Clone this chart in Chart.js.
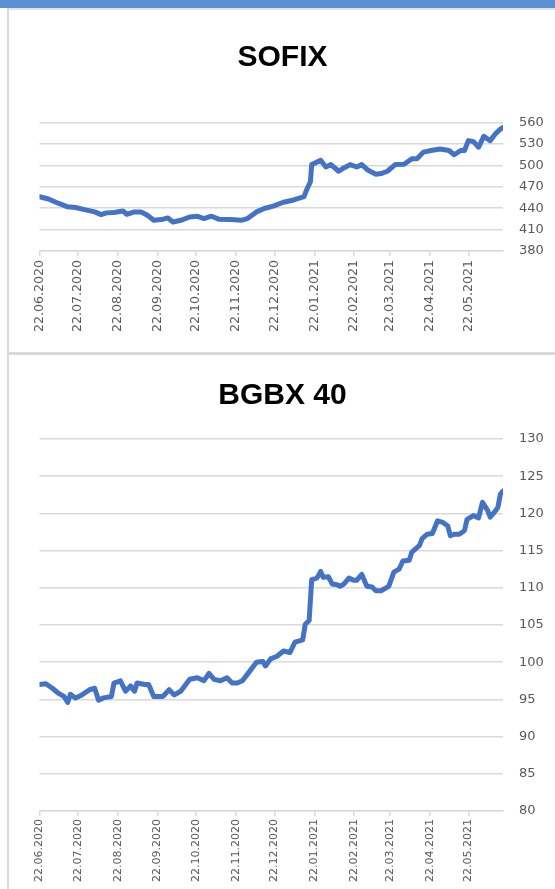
<!DOCTYPE html>
<html>
<head>
<meta charset="utf-8">
<script src="https://cdn.jsdelivr.net/npm/chart.js@4.4.1/dist/chart.umd.min.js"></script>
<style>
  html, body { margin: 0; padding: 0; background: #fff; }
  body { width: 555px; height: 889px; position: relative; overflow: hidden; }
  .topbar { position: absolute; left: 0; top: 0; width: 555px; height: 8px; background: #5b8fd5; }
  .frame-top { position: absolute; left: 7px; top: 8px; width: 548px; height: 2px; background: #e3e3e3; }
  .frame-left { position: absolute; left: 7px; top: 8px; width: 2px; height: 881px; background: #d9d9d9; }
  .sep { position: absolute; left: 7px; top: 352px; width: 548px; height: 3px; background: #d9d9d9; }
  .box { position: absolute; left: 10px; width: 545px; }
  #box1 { top: 10px; height: 342px; }
  #box2 { top: 355px; height: 534px; }
</style>
</head>
<body>
<div class="topbar"></div>
<div class="frame-top"></div>
<div class="frame-left"></div>
<div class="sep"></div>
<div class="box" id="box1"><canvas id="sofix"></canvas></div>
<div class="box" id="box2"><canvas id="bgbx"></canvas></div>

<script>
// month ticks on the date axis
const tickLabels = ['22.06.2020', '22.07.2020', '22.08.2020', '22.09.2020', '22.10.2020', '22.11.2020',
                    '22.12.2020', '22.01.2021', '22.02.2021', '22.03.2021', '22.04.2021', '22.05.2021'];

// SOFIX — days since 22.06.2020 / index value
const sofixDays = [0, 7, 15, 22, 28, 35, 43, 48, 52, 58, 65, 68, 74, 79, 84, 89, 95, 100, 104, 110,
  117, 123, 128, 134, 140, 149, 157, 162, 169, 175, 182, 190, 198, 206, 208, 211, 212, 219, 223, 227,
  233, 237, 242, 247, 251, 256, 262, 266, 271, 277, 284, 290, 294, 299, 305, 312, 319, 323, 328, 331,
  334, 338, 342, 346, 351, 355, 359, 361];
const sofixValues = [456, 452.8, 446.6, 441.9, 441, 438, 434.8, 431, 433.4, 434, 436, 431.5, 434.8, 434.8, 430, 423, 424, 426.3, 420.6, 423,
  427.6, 428.7, 425.4, 428.7, 424.4, 424, 423, 425.4, 434.8, 439.5, 442.8, 448.3, 451.5, 456.2, 465.4, 477, 501, 507, 497.7, 501,
  491.7, 496.3, 501, 497.7, 501, 493, 487.5, 488.5, 491.7, 501, 501.4, 509.2, 509.2, 518.5, 520.8, 523, 520.8, 514.8, 520.8, 520.8,
  534.6, 533.2, 525.4, 540.6, 534.6, 544, 550.8, 553];

// BGBX 40
const bgbxDays = [0, 5, 10, 15, 19, 22, 24, 28, 33, 39, 43, 46, 50, 56, 58, 63, 67, 71, 74, 76,
  82, 85, 89, 96, 101, 105, 110, 117, 123, 128, 132, 136, 141, 146, 150, 154, 158, 162, 169, 174,
  176, 180, 185, 190, 195, 199, 205, 207, 210, 211, 212, 216, 219, 221, 225, 228, 232, 234, 237, 241,
  245, 247, 251, 255, 259, 262, 266, 272, 276, 280, 283, 288, 290, 296, 298, 302, 306, 310, 314, 318,
  320, 323, 327, 331, 333, 338, 342, 345, 349, 351, 354, 357, 359, 361];
const bgbxValues = [97.0, 97.1, 96.5, 95.8, 95.4, 94.6, 95.7, 95.2, 95.6, 96.3, 96.5, 94.9, 95.2, 95.4, 97.2, 97.5, 96.1, 96.8, 96.1, 97.2,
  97.0, 97.0, 95.4, 95.4, 96.3, 95.6, 96.1, 97.7, 97.9, 97.5, 98.5, 97.7, 97.5, 97.9, 97.2, 97.2, 97.5, 98.4, 100.0, 100.1,
  99.5, 100.45, 100.8, 101.5, 101.3, 102.7, 103.0, 105.1, 105.6, 108.3, 111.1, 111.3, 112.2, 111.4, 111.5, 110.5, 110.4, 110.2, 110.5, 111.3,
  111.0, 111.0, 111.8, 110.2, 110.1, 109.6, 109.6, 110.2, 112.1, 112.5, 113.6, 113.7, 114.8, 115.7, 116.6, 117.2, 117.3, 119.0, 118.8, 118.3,
  117.0, 117.2, 117.2, 117.7, 119.2, 119.7, 119.4, 121.5, 120.4, 119.5, 120.1, 120.8, 122.6, 123.0];

const sofixAxis = { min: 380, max: 560, step: 30 };
const bgbxAxis = { min: 80, max: 130, step: 5 };

const LINE = '#4472C4';
const GRID = '#d9d9d9';
const TXT = '#595959';

const day0 = Date.UTC(2020, 5, 22);
const tickDays = tickLabels.map(s => {
  const [d, m, y] = s.split('.').map(Number);
  return Math.round((Date.UTC(y, m - 1, d) - day0) / 864e5);
});

function buildChart(id, title, days, values, axis, o) {
  const data = days.map((d, i) => ({ x: d, y: values[i] }));
  return new Chart(document.getElementById(id), {
    type: 'line',
    data: {
      datasets: [{
        data,
        borderColor: LINE,
        borderWidth: 5,
        borderJoinStyle: 'round',
        borderCapStyle: 'round',
        pointRadius: 0,
        tension: 0,
        fill: false,
      }],
    },
    options: {
      responsive: true,
      maintainAspectRatio: false,
      animation: false,
      layout: { padding: 0 },
      plugins: {
        legend: { display: false },
        tooltip: { enabled: false },
        title: {
          display: true,
          text: title,
          color: '#000',
          font: { family: 'Liberation Sans', size: 30, weight: 'bold', lineHeight: 1.2 },
          padding: { top: o.titleTop, bottom: o.titleBottom },
        },
      },
      scales: {
        x: {
          type: 'linear',
          min: 0,
          max: days[days.length - 1],
          afterBuildTicks: ax => { ax.ticks = tickDays.map(v => ({ value: v })); },
          afterFit: ax => { ax.height = o.xHeight; },
          ticks: {
            autoSkip: false,
            minRotation: 90,
            maxRotation: 90,
            padding: o.xPad,
            color: TXT,
            font: { family: 'DejaVu Sans', size: o.xFont },
            callback: (v, i) => tickLabels[i],
          },
          grid: { drawOnChartArea: false, drawTicks: true, tickLength: 5, color: GRID, lineWidth: 1.5 },
          border: { display: true, color: GRID, width: 1.5 },
        },
        y: {
          position: 'right',
          min: axis.min,
          max: axis.max,
          afterFit: ax => { ax.width = 52; },
          ticks: {
            stepSize: axis.step,
            padding: 16,
            color: TXT,
            font: { family: 'DejaVu Sans', size: 13 },
          },
          grid: { color: GRID, lineWidth: 1.5, drawTicks: false },
          border: { display: false },
        },
        // empty left gutter so the title stays centred on the whole panel
        gutter: {
          type: 'linear',
          position: 'left',
          afterFit: ax => { ax.width = 29.5; },
          ticks: { display: false },
          grid: { display: false, drawTicks: false },
          border: { display: false },
        },
      },
    },
  });
}

buildChart('sofix', 'SOFIX', sofixDays, sofixValues, sofixAxis,
  { titleTop: 29.5, titleBottom: 47, xHeight: 101, xPad: 4, xFont: 12.6 });
buildChart('bgbx', 'BGBX 40', bgbxDays, bgbxValues, bgbxAxis,
  { titleTop: 23, titleBottom: 25, xHeight: 78, xPad: 3, xFont: 11 });
</script>
</body>
</html>
